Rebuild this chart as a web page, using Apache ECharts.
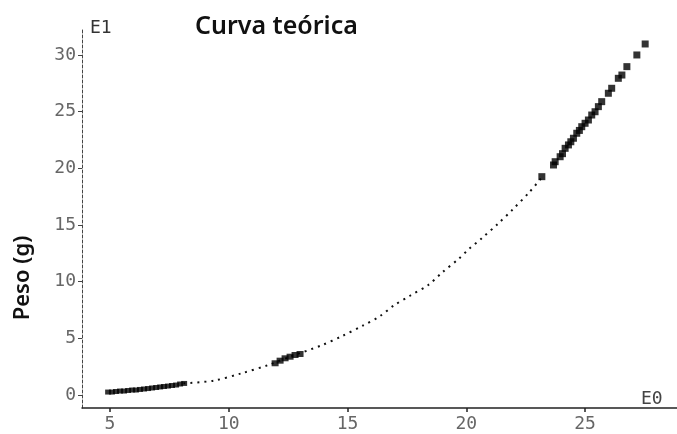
<!DOCTYPE html>
<html>
<head>
<meta charset="utf-8">
<script src="https://cdn.jsdelivr.net/npm/echarts@6/dist/echarts.min.js"></script>
<style>html,body{margin:0;padding:0;background:#fff}#c{width:677px;height:434px}</style>
</head>
<body>
<div id="c"></div>
<script>
// Tick labels
var xTicks = [5, 10, 15, 20, 25];
var yTicks = [0, 5, 10, 15, 20, 25, 30];

// Observed groups (length cm, weight in units of 10 g)
var lowL = [4.92, 5.08, 5.25, 5.42, 5.59, 5.76, 5.93, 6.09, 6.26, 6.43, 6.60, 6.77, 6.94, 7.11, 7.27, 7.44, 7.61, 7.78, 7.95, 8.12];
var lowW = [0.26, 0.26, 0.31, 0.35, 0.35, 0.40, 0.44, 0.44, 0.49, 0.53, 0.57, 0.62, 0.66, 0.71, 0.75, 0.79, 0.84, 0.88, 0.97, 1.02];

var midL = [11.95, 12.16, 12.37, 12.58, 12.79, 13.00];
var midW = [2.80, 3.03, 3.24, 3.38, 3.53, 3.62];

var highL = [23.18, 23.67, 23.74, 23.95, 24.05, 24.16, 24.30, 24.40, 24.51, 24.65, 24.76, 24.86, 25.00, 25.14, 25.28, 25.42, 25.56, 25.70, 25.98, 26.12, 26.40, 26.55, 26.76, 27.18, 27.53];
var highW = [19.27, 20.30, 20.59, 21.03, 21.30, 21.77, 22.07, 22.35, 22.66, 23.10, 23.35, 23.68, 23.98, 24.27, 24.71, 25.00, 25.45, 25.89, 26.63, 27.07, 27.95, 28.24, 28.98, 30.01, 30.98];

// Theoretical curve
var curveL = [8.09, 9.35, 10.55, 11.67, 12.58, 13.91, 14.78, 15.64, 16.37, 16.96, 17.63, 18.40, 18.99, 19.67, 20.10, 20.65, 21.35, 21.96, 22.65, 23.18];
var curveW = [1.03, 1.26, 1.92, 2.65, 3.38, 4.39, 5.21, 6.12, 6.97, 7.92, 8.76, 9.71, 10.83, 12.00, 12.86, 13.83, 15.15, 16.39, 17.89, 19.21];

function zip(a, b) { return a.map(function (v, i) { return [v, b[i]]; }); }

var chart = echarts.init(document.getElementById('c'), null, {renderer: 'canvas'});
var mono = 'DejaVu Sans Mono';
chart.setOption({
  backgroundColor: '#fff',
  animation: false,
  title: {
    text: 'Curva teórica', left: 190, top: 9,
    textStyle: {fontFamily: 'Noto Sans', fontWeight: 600, fontSize: 25, color: '#111'}
  },
  grid: {left: 82, right: 0, top: 28, bottom: 26, containLabel: false},
  xAxis: {
    type: 'value', min: 3.82, max: 28.87,
    axisLine: {onZero: false, lineStyle: {color: '#222', width: 1.5}},
    axisTick: {customValues: xTicks, length: 4, lineStyle: {color: '#222', width: 1.5}},
    axisLabel: {customValues: xTicks, margin: 7, fontFamily: mono, fontSize: 18, color: '#666'},
    splitLine: {show: false}
  },
  yAxis: {
    type: 'value', min: -1.147, max: 32.39,
    axisLine: {onZero: false, lineStyle: {color: '#444', width: 1, type: [3, 2]}},
    axisTick: {customValues: yTicks, length: 4, lineStyle: {color: '#444'}},
    axisLabel: {customValues: yTicks, margin: 6, fontFamily: mono, fontSize: 18, color: '#666'},
    splitLine: {show: false}
  },
  graphic: [
    {type: 'text', x: 90, y: 28, style: {text: 'E1', font: '18px "DejaVu Sans Mono"', fill: '#333', verticalAlign: 'middle'}},
    {type: 'text', x: 641, y: 399, style: {text: 'E0', font: '18px "DejaVu Sans Mono"', fill: '#444', verticalAlign: 'middle'}},
    {type: 'text', x: 23, y: 278, rotation: Math.PI / 2,
     style: {text: 'Peso (g)', font: '600 22px "Noto Sans"', fill: '#111', align: 'center', verticalAlign: 'middle'}}
  ],
  series: [
    {type: 'line', data: zip(curveL, curveW), smooth: 0.3, symbol: 'none',
     lineStyle: {color: '#111', width: 2, type: [2, 5]}, z: 1},
    {type: 'scatter', data: zip(lowL, lowW), symbol: 'rect', symbolSize: [6, 5], itemStyle: {color: '#000'}, z: 3},
    {type: 'scatter', data: zip(midL, midW), symbol: 'rect', symbolSize: [7, 6], itemStyle: {color: '#000'}, z: 3},
    {type: 'scatter', data: zip(highL, highW), symbol: 'rect', symbolSize: [7, 7], itemStyle: {color: '#000'}, z: 3}
  ]
});
</script>
</body>
</html>
